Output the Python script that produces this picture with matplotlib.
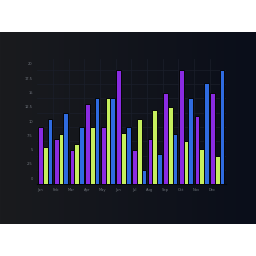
import numpy as np
import matplotlib
matplotlib.use("Agg")
import matplotlib.pyplot as plt
from matplotlib.colors import LinearSegmentedColormap
from matplotlib.transforms import ScaledTranslation

months = ["Jan", "Feb", "Mar", "Apr", "May", "Jun",
          "Jul", "Aug", "Sep", "Oct", "Nov", "Dec"]
series_a = [10, 8, 6, 14, 10, 20, 6, 8, 16, 20, 12, 16]
series_b = [6.5, 8.75, 7, 10, 15, 9, 11.5, 13, 13.5, 7.5, 6.25, 5]
series_c = [11.5, 12.5, 10, 15, 15, 10, 2.5, 5.25, 8.75, 15, 17.75, 20]
yticks = [0, 2.5, 5, 7.5, 10, 12.5, 15, 17.5, 20]

colors = ["#8a2be2", "#c6ef5e", "#2f6be0"]

fig = plt.figure(figsize=(2.56, 2.56), dpi=100)
fig.patch.set_facecolor("white")

# dark panel with a left-to-right gradient
bg = fig.add_axes([0, 32 / 256, 1, 192 / 256])
cmap = LinearSegmentedColormap.from_list("bg", ["#1a1b1e", "#0a0e1a"])
bg.imshow(np.linspace(0, 1, 256).reshape(1, -1), aspect="auto", cmap=cmap,
          extent=[0, 1, 0, 1])
bg.set_axis_off()

ax = fig.add_axes([37 / 256, 71.7 / 256, 189 / 256, 125.3 / 256])
ax.set_facecolor("none")

x = np.arange(len(months))
w = 0.3
for i, (vals, c) in enumerate(zip([series_a, series_b, series_c], colors)):
    ax.bar(x + (i - 1) * w, vals, width=w, color=c, edgecolor="#050608",
           linewidth=0.7, zorder=3)

ax.set_xlim(-0.53, 11.55)
ax.set_ylim(0, 21.9)

ax.set_xticks(x - 0.33)
ax.set_xticklabels(months)
ax.set_xticks(np.arange(len(months) - 1) + 0.5, minor=True)
ax.set_yticks(yticks)
ax.set_yticklabels([f"{v:g}" for v in yticks])

ax.tick_params(axis="both", length=0, labelsize=2.6, labelcolor="#6f747c", pad=3)
ax.tick_params(axis="x", which="minor", length=0)
for lab in ax.get_yticklabels():
    lab.set_transform(lab.get_transform() + ScaledTranslation(0, 0.06, fig.dpi_scale_trans))

ax.grid(axis="y", color="#1b1f2b", linewidth=0.5, zorder=0)
ax.grid(axis="x", which="minor", color="#1b1f2b", linewidth=0.5, zorder=0)

for s in ["top", "right", "left"]:
    ax.spines[s].set_visible(False)
ax.spines["bottom"].set_color("#050608")
ax.spines["bottom"].set_linewidth(0.8)

fig.savefig("out.png", dpi=100)
